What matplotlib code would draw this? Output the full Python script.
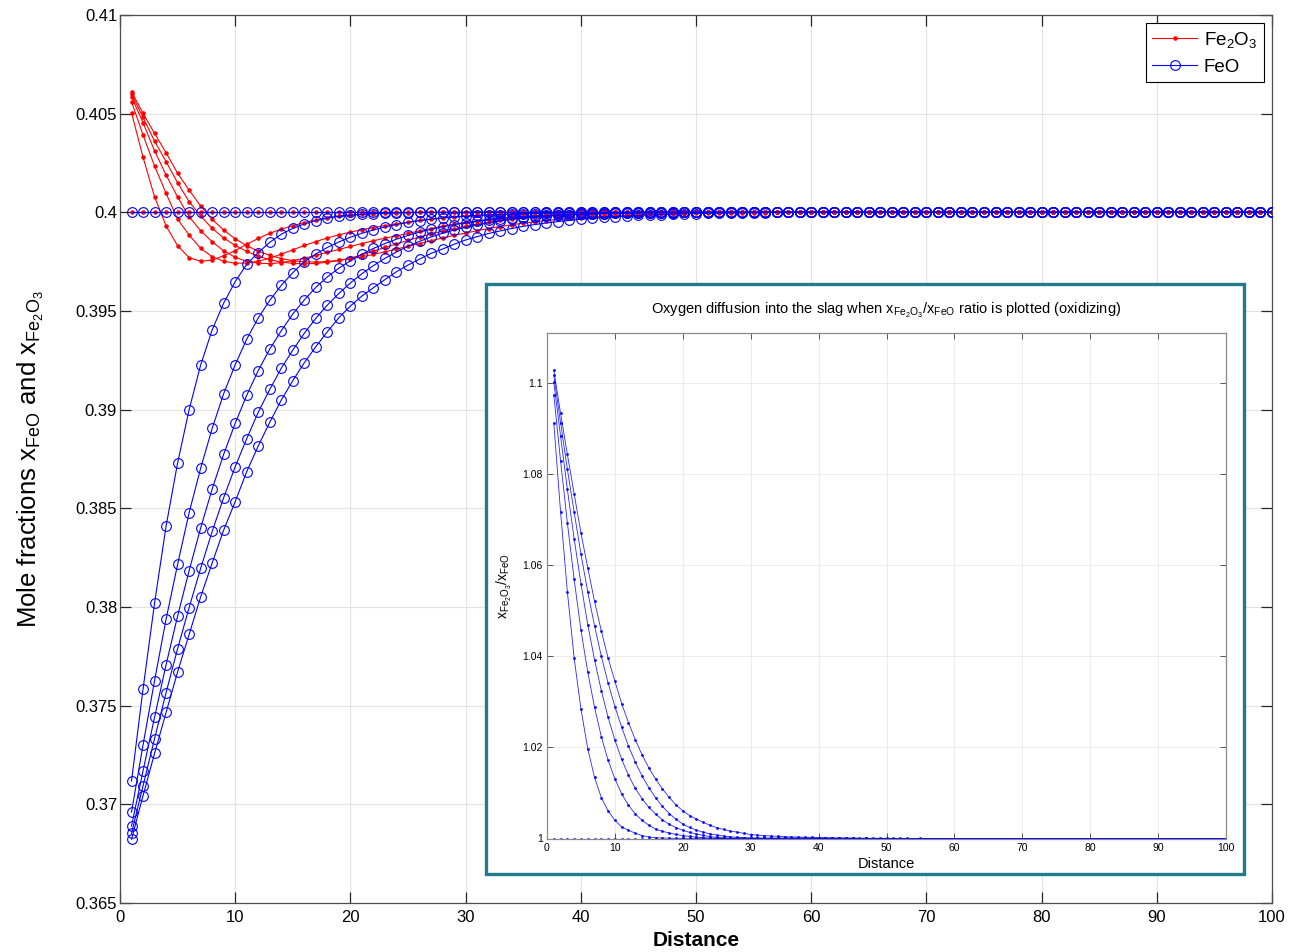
import numpy as np
import matplotlib
matplotlib.use("Agg")
import matplotlib.pyplot as plt
from matplotlib.ticker import FuncFormatter
from matplotlib.patches import Rectangle
from matplotlib.lines import Line2D

plt.rcParams['font.family'] = ['Liberation Sans', 'DejaVu Sans']
plt.rcParams['mathtext.default'] = 'regular'

# ---------------- data ----------------
PLATEAU = 0.4          # bulk mole fraction reached by every profile
N_POINTS = 100
distance = np.arange(1, N_POINTS + 1)

# FeO profiles (blue), values from distance 1 up to where they meet the 0.4 plateau
feo_t0 = []
feo_t1 = [0.37118, 0.37584, 0.3802, 0.3841, 0.3873, 0.3900, 0.39226, 0.39404, 0.3954, 0.39649,
          0.39737, 0.39796, 0.39848, 0.39889, 0.39919, 0.39941, 0.39958, 0.3997, 0.3998, 0.39985,
          0.3999, 0.39993, 0.39995, 0.39997, 0.39998]
feo_t2 = [0.36961, 0.37301, 0.37627, 0.37938, 0.38216, 0.38478, 0.38703, 0.38905, 0.39081, 0.39228,
          0.39357, 0.39465, 0.39554, 0.3963, 0.39694, 0.3975, 0.39789, 0.39822, 0.3985, 0.39874,
          0.39894, 0.39911, 0.39926, 0.39938, 0.39949, 0.39958, 0.39965, 0.39971, 0.39976, 0.3998,
          0.39984, 0.39987, 0.39989, 0.39991, 0.39993, 0.39994, 0.39995, 0.39996, 0.39997, 0.39998,
          0.39998, 0.39999]
feo_t3 = [0.3689, 0.3717, 0.37441, 0.37708, 0.37954, 0.38184, 0.384, 0.38598, 0.38774, 0.38931,
          0.39073, 0.39198, 0.39307, 0.394, 0.39485, 0.39556, 0.3962, 0.39673, 0.39717, 0.39755,
          0.39788, 0.39817, 0.39842, 0.39864, 0.39883, 0.399, 0.39914, 0.39927, 0.39938, 0.39947,
          0.39955, 0.39962, 0.39968, 0.39973, 0.39977, 0.39981, 0.39984, 0.39987, 0.39989, 0.39991,
          0.39993, 0.39994, 0.39995, 0.39996, 0.39997, 0.39998, 0.39998, 0.39999]
feo_t4 = [0.36853, 0.37094, 0.37333, 0.37566, 0.37789, 0.37997, 0.38196, 0.38383, 0.38554, 0.38711,
          0.38853, 0.38987, 0.39103, 0.3921, 0.39302, 0.39387, 0.39463, 0.3953, 0.39589, 0.39642,
          0.39689, 0.3973, 0.39767, 0.39799, 0.39828, 0.39853, 0.39875, 0.39894, 0.3991, 0.39924,
          0.39936, 0.39947, 0.39956, 0.39964, 0.3997, 0.39976, 0.3998, 0.39984, 0.39987, 0.3999,
          0.39992, 0.39994, 0.39995, 0.39996, 0.39997, 0.39998, 0.39998, 0.39999]
feo_t5 = [0.36823, 0.37044, 0.37258, 0.37466, 0.37671, 0.37861, 0.38051, 0.38223, 0.3839, 0.38534,
          0.38686, 0.38816, 0.38936, 0.39049, 0.39147, 0.39238, 0.39319, 0.39395, 0.39466, 0.39525,
          0.39576, 0.39618, 0.39659, 0.39699, 0.39733, 0.39763, 0.39792, 0.39814, 0.39838, 0.3986,
          0.39877, 0.39893, 0.39906, 0.39918, 0.39929, 0.39938, 0.39946, 0.39953, 0.39959, 0.39965,
          0.3997, 0.39974, 0.39978, 0.39981, 0.39984, 0.39987, 0.39989, 0.39991, 0.39992, 0.39994,
          0.39995, 0.39996, 0.39997, 0.39998, 0.39998, 0.39999]

# Fe2O3 profiles (red)
fe2o3_t0 = []
fe2o3_t1 = [0.40505, 0.40279, 0.40079, 0.39931, 0.39831, 0.3977, 0.39752, 0.39758, 0.3978, 0.39806,
            0.39838, 0.39868, 0.39894, 0.39915, 0.39932, 0.39948, 0.39962, 0.39973, 0.39981, 0.39987,
            0.39991, 0.39994, 0.39996, 0.39998, 0.39999]
fe2o3_t2 = [0.40561, 0.40392, 0.40235, 0.40096, 0.39965, 0.39885, 0.39818, 0.39775, 0.39752, 0.39742,
            0.39743, 0.39752, 0.39768, 0.39788, 0.3981, 0.39832, 0.39852, 0.3987, 0.39886, 0.399,
            0.39912, 0.39923, 0.39933, 0.39942, 0.3995, 0.39959, 0.39966, 0.39972, 0.39977, 0.39981,
            0.39985, 0.39988, 0.3999, 0.39992, 0.39994, 0.39995, 0.39996, 0.39997, 0.39998, 0.39998,
            0.39999, 0.39999]
fe2o3_t3 = [0.40586, 0.40454, 0.40312, 0.40189, 0.40078, 0.39978, 0.39907, 0.39851, 0.39805, 0.39772,
            0.39752, 0.39742, 0.3974, 0.39745, 0.39755, 0.39768, 0.39782, 0.39797, 0.39812, 0.39827,
            0.39842, 0.39856, 0.39869, 0.39881, 0.39893, 0.39906, 0.39918, 0.3993, 0.3994, 0.39949,
            0.39957, 0.39964, 0.3997, 0.39975, 0.39979, 0.39983, 0.39986, 0.39988, 0.3999, 0.39992,
            0.39994, 0.39995, 0.39996, 0.39997, 0.39998, 0.39998, 0.39999, 0.39999]
fe2o3_t4 = [0.406, 0.40481, 0.40361, 0.40257, 0.4015, 0.40054, 0.39981, 0.39919, 0.3987, 0.39832,
            0.39802, 0.39778, 0.3976, 0.39748, 0.39741, 0.39739, 0.39741, 0.39747, 0.39756, 0.39768,
            0.39785, 0.39803, 0.39822, 0.3984, 0.39858, 0.39875, 0.3989, 0.39904, 0.39917, 0.39929,
            0.3994, 0.3995, 0.39959, 0.39967, 0.39974, 0.39979, 0.39984, 0.39987, 0.3999, 0.39992,
            0.39994, 0.39995, 0.39996, 0.39997, 0.39998, 0.39998, 0.39999, 0.39999]
fe2o3_t5 = [0.40611, 0.40502, 0.404, 0.40302, 0.40198, 0.40113, 0.40032, 0.39965, 0.3991, 0.39866,
            0.39831, 0.39803, 0.39782, 0.39766, 0.39755, 0.39749, 0.39748, 0.39751, 0.39757, 0.39765,
            0.39775, 0.39787, 0.398, 0.39814, 0.39828, 0.39842, 0.39856, 0.3987, 0.39883, 0.39895,
            0.39907, 0.39918, 0.39928, 0.39937, 0.39945, 0.39952, 0.39958, 0.39964, 0.39969, 0.39973,
            0.39977, 0.3998, 0.39983, 0.39986, 0.39988, 0.3999, 0.39991, 0.39993, 0.39994, 0.39995,
            0.39996, 0.39997, 0.39998, 0.39998, 0.39999, 0.39999]

main_xticks = list(range(0, 101, 10))
main_yticks = [0.365, 0.37, 0.375, 0.38, 0.385, 0.39, 0.395, 0.4, 0.405, 0.41]
inset_yticks = [1.0, 1.02, 1.04, 1.06, 1.08, 1.1]

# main title: in the reference only the bottoms of its two subscript "2"s are inside the canvas
title_head = "Oxidation of FeO into Fe"
title_mid = "$_2$O$_3$ with surface O"
title_tail = "$_2$ in excess"
inset_title = r"Oxygen diffusion into the slag when x$_{Fe_2O_3}$/x$_{FeO}$ ratio is plotted (oxidizing)"


def full_profile(values):
    """Values read up to the plateau, followed by the plateau itself."""
    return np.array(list(values) + [PLATEAU] * (N_POINTS - len(values)))


feo = [full_profile(s) for s in (feo_t0, feo_t1, feo_t2, feo_t3, feo_t4, feo_t5)]
fe2o3 = [full_profile(s) for s in (fe2o3_t0, fe2o3_t1, fe2o3_t2, fe2o3_t3, fe2o3_t4, fe2o3_t5)]
ratios = [a / b for a, b in zip(fe2o3, feo)]

# ---------------- figure ----------------
W, H = 1292, 952
fig = plt.figure(figsize=(W / 100, H / 100), dpi=100)
fig.patch.set_facecolor('white')


def fig_rect(left, top, right, bottom):
    return [left / W, 1 - bottom / H, (right - left) / W, (bottom - top) / H]


ax = fig.add_axes(fig_rect(120, 15, 1272, 903))

for s in fe2o3:
    ax.plot(distance, s, color='red', lw=0.8, marker='.', ms=4.5, zorder=2)
for s in feo:
    ax.plot(distance, s, color='blue', lw=0.8, marker='o', ms=7, mfc='none',
            mec='blue', mew=0.8, zorder=3)

ax.set_xlim(0, 100)
ax.set_ylim(0.365, 0.41)
ax.set_xticks(main_xticks)
ax.set_yticks(main_yticks)
fmt = FuncFormatter(lambda v, p: ('%g' % round(v, 6)))
ax.xaxis.set_major_formatter(fmt)
ax.yaxis.set_major_formatter(fmt)
ax.tick_params(direction='in', length=8, width=0.9, top=True, right=True,
               labelsize=12, pad=5, colors='#262626', labelcolor='black')
ax.tick_params(axis='y', pad=2)
ax.grid(True, color='#e2e2e2', lw=0.8)
ax.set_axisbelow(True)
for sp in ax.spines.values():
    sp.set_color('#4d4d4d')
    sp.set_linewidth(0.9)

ax.set_ylabel(r"Mole fractions x$_{FeO}$ and x$_{Fe_2O_3}$", fontsize=18.5)
ax.yaxis.set_label_coords(-0.064, 0.5)
ax.set_xlabel("Distance", fontsize=15, fontweight='bold')
ax.xaxis.set_label_coords(0.5, -0.031)

h_red = Line2D([], [], color='red', lw=0.8, marker='.', ms=4.5)
h_blue = Line2D([], [], color='blue', lw=0.8, marker='o', ms=7, mfc='none', mew=0.8)
leg = ax.legend([h_red, h_blue], [r"Fe$_2$O$_3$", "FeO"], loc='upper right', fontsize=13.5,
                frameon=True, fancybox=False, framealpha=1, edgecolor='black',
                handlelength=2.4, handletextpad=0.35, borderpad=0.35, labelspacing=0.45,
                borderaxespad=0.45)
leg.get_frame().set_linewidth(0.8)

# main title placed so that its subscripts "2" peek in at the top edge, as in the reference
renderer = fig.canvas.get_renderer()
title_fs = 15.0


def text_width(s, fs):
    t = fig.text(0, 0, s, fontsize=fs)
    w = t.get_window_extent(renderer).width
    t.remove()
    return w


gap = text_width(title_head + title_mid, title_fs) - text_width(title_head, title_fs)
title_fs = min(20.0, title_fs * 170.0 / gap)
head_w = text_width(title_head, title_fs)
x_start = 755 - head_w - 3
fig.text(x_start / W, 1 + 2.5 / H, title_head + title_mid + title_tail,
         ha='left', va='baseline', fontsize=title_fs)

# ---------------- inset ----------------
frame = Rectangle((486 / W, 1 - 874 / H), (1244 - 486) / W, (874 - 284) / H,
                  transform=fig.transFigure, facecolor='white', edgecolor='#217b8b',
                  lw=2.4, zorder=1)
fig.patches.append(frame)

axi = fig.add_axes(fig_rect(547, 333, 1226, 838.5))
axi.set_zorder(2)
for r in ratios:
    axi.plot(distance, r, color='blue', lw=0.6, marker='.', ms=2.2, alpha=0.85)
axi.set_xlim(0, 100)
axi.set_ylim(1.0, 1.111)
axi.set_xticks(main_xticks)
axi.set_yticks(inset_yticks)
axi.xaxis.set_major_formatter(fmt)
axi.yaxis.set_major_formatter(fmt)
axi.tick_params(direction='in', length=4.5, width=0.7, top=True, right=True,
                labelsize=7.5, pad=3, colors='#555555', labelcolor='black')
axi.grid(True, color='#ebebeb', lw=0.7)
axi.set_axisbelow(True)
for sp in axi.spines.values():
    sp.set_color('#8a8a8a')
    sp.set_linewidth(0.9)
axi.set_title(inset_title, fontsize=10.5, pad=14)
axi.set_ylabel(r"x$_{Fe_2O_3}$/x$_{FeO}$", fontsize=10)
axi.yaxis.set_label_coords(-0.048, 0.5)
axi.set_xlabel("Distance", fontsize=10.5)
axi.xaxis.set_label_coords(0.5, -0.036)

fig.savefig("out.png", dpi=100, facecolor='white')
